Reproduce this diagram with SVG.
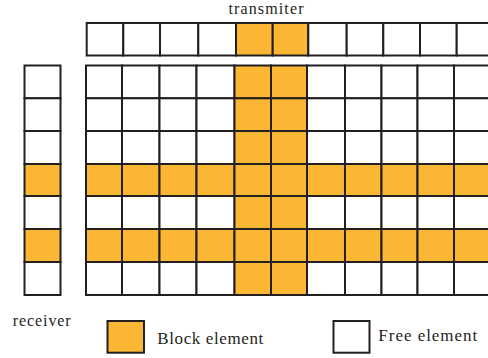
<svg xmlns="http://www.w3.org/2000/svg" width="488" height="358" viewBox="0 0 488 358">
<style>
rect{stroke:#231f20;stroke-width:2}
.f{fill:#ffffff}
.b{fill:#fbb634}
text{font-family:"Liberation Serif","Times New Roman",serif;fill:#231f20}
</style>
<g id="transmitter">
<text x="228.5" y="13.5" font-size="16" textLength="75" lengthAdjust="spacing">transmiter</text>
<rect class="f" x="86.7" y="23" width="36.6" height="32.5"/>
<rect class="f" x="123.3" y="23" width="36.7" height="32.5"/>
<rect class="f" x="160" y="23" width="38.3" height="32.5"/>
<rect class="f" x="198.3" y="23" width="37.7" height="32.5"/>
<rect class="b" x="236" y="23" width="36.7" height="32.5"/>
<rect class="b" x="272.7" y="23" width="35.6" height="32.5"/>
<rect class="f" x="308.3" y="23" width="38.4" height="32.5"/>
<rect class="f" x="346.7" y="23" width="36.6" height="32.5"/>
<rect class="f" x="383.3" y="23" width="36.7" height="32.5"/>
<rect class="f" x="420" y="23" width="36.7" height="32.5"/>
<rect class="f" x="456.7" y="23" width="36.6" height="32.5"/>
</g>
<g id="receiver">
<rect class="f" x="24.5" y="65.5" width="36" height="32.8"/>
<rect class="f" x="24.5" y="98.3" width="36" height="32.7"/>
<rect class="f" x="24.5" y="131" width="36" height="33"/>
<rect class="b" x="24.5" y="164" width="36" height="32"/>
<rect class="f" x="24.5" y="196" width="36" height="33"/>
<rect class="b" x="24.5" y="229" width="36" height="33"/>
<rect class="f" x="24.5" y="262" width="36" height="33"/>
<text x="12.7" y="325.7" font-size="16" textLength="58" lengthAdjust="spacing">receiver</text>
</g>
<g id="grid">
<!-- row 0 -->
<rect class="f" x="86" y="65.5" width="36" height="32.8"/>
<rect class="f" x="122" y="65.5" width="37.5" height="32.8"/>
<rect class="f" x="159.5" y="65.5" width="37" height="32.8"/>
<rect class="f" x="196.5" y="65.5" width="38" height="32.8"/>
<rect class="b" x="234.5" y="65.5" width="36.5" height="32.8"/>
<rect class="b" x="271" y="65.5" width="36" height="32.8"/>
<rect class="f" x="307" y="65.5" width="38" height="32.8"/>
<rect class="f" x="345" y="65.5" width="36.5" height="32.8"/>
<rect class="f" x="381.5" y="65.5" width="36" height="32.8"/>
<rect class="f" x="417.5" y="65.5" width="36.5" height="32.8"/>
<rect class="f" x="454" y="65.5" width="37" height="32.8"/>
<!-- row 1 -->
<rect class="f" x="86" y="98.3" width="36" height="32.7"/>
<rect class="f" x="122" y="98.3" width="37.5" height="32.7"/>
<rect class="f" x="159.5" y="98.3" width="37" height="32.7"/>
<rect class="f" x="196.5" y="98.3" width="38" height="32.7"/>
<rect class="b" x="234.5" y="98.3" width="36.5" height="32.7"/>
<rect class="b" x="271" y="98.3" width="36" height="32.7"/>
<rect class="f" x="307" y="98.3" width="38" height="32.7"/>
<rect class="f" x="345" y="98.3" width="36.5" height="32.7"/>
<rect class="f" x="381.5" y="98.3" width="36" height="32.7"/>
<rect class="f" x="417.5" y="98.3" width="36.5" height="32.7"/>
<rect class="f" x="454" y="98.3" width="37" height="32.7"/>
<!-- row 2 -->
<rect class="f" x="86" y="131" width="36" height="33"/>
<rect class="f" x="122" y="131" width="37.5" height="33"/>
<rect class="f" x="159.5" y="131" width="37" height="33"/>
<rect class="f" x="196.5" y="131" width="38" height="33"/>
<rect class="b" x="234.5" y="131" width="36.5" height="33"/>
<rect class="b" x="271" y="131" width="36" height="33"/>
<rect class="f" x="307" y="131" width="38" height="33"/>
<rect class="f" x="345" y="131" width="36.5" height="33"/>
<rect class="f" x="381.5" y="131" width="36" height="33"/>
<rect class="f" x="417.5" y="131" width="36.5" height="33"/>
<rect class="f" x="454" y="131" width="37" height="33"/>
<!-- row 3 -->
<rect class="b" x="86" y="164" width="36" height="32"/>
<rect class="b" x="122" y="164" width="37.5" height="32"/>
<rect class="b" x="159.5" y="164" width="37" height="32"/>
<rect class="b" x="196.5" y="164" width="38" height="32"/>
<rect class="b" x="234.5" y="164" width="36.5" height="32"/>
<rect class="b" x="271" y="164" width="36" height="32"/>
<rect class="b" x="307" y="164" width="38" height="32"/>
<rect class="b" x="345" y="164" width="36.5" height="32"/>
<rect class="b" x="381.5" y="164" width="36" height="32"/>
<rect class="b" x="417.5" y="164" width="36.5" height="32"/>
<rect class="b" x="454" y="164" width="37" height="32"/>
<!-- row 4 -->
<rect class="f" x="86" y="196" width="36" height="33"/>
<rect class="f" x="122" y="196" width="37.5" height="33"/>
<rect class="f" x="159.5" y="196" width="37" height="33"/>
<rect class="f" x="196.5" y="196" width="38" height="33"/>
<rect class="b" x="234.5" y="196" width="36.5" height="33"/>
<rect class="b" x="271" y="196" width="36" height="33"/>
<rect class="f" x="307" y="196" width="38" height="33"/>
<rect class="f" x="345" y="196" width="36.5" height="33"/>
<rect class="f" x="381.5" y="196" width="36" height="33"/>
<rect class="f" x="417.5" y="196" width="36.5" height="33"/>
<rect class="f" x="454" y="196" width="37" height="33"/>
<!-- row 5 -->
<rect class="b" x="86" y="229" width="36" height="33"/>
<rect class="b" x="122" y="229" width="37.5" height="33"/>
<rect class="b" x="159.5" y="229" width="37" height="33"/>
<rect class="b" x="196.5" y="229" width="38" height="33"/>
<rect class="b" x="234.5" y="229" width="36.5" height="33"/>
<rect class="b" x="271" y="229" width="36" height="33"/>
<rect class="b" x="307" y="229" width="38" height="33"/>
<rect class="b" x="345" y="229" width="36.5" height="33"/>
<rect class="b" x="381.5" y="229" width="36" height="33"/>
<rect class="b" x="417.5" y="229" width="36.5" height="33"/>
<rect class="b" x="454" y="229" width="37" height="33"/>
<!-- row 6 -->
<rect class="f" x="86" y="262" width="36" height="33"/>
<rect class="f" x="122" y="262" width="37.5" height="33"/>
<rect class="f" x="159.5" y="262" width="37" height="33"/>
<rect class="f" x="196.5" y="262" width="38" height="33"/>
<rect class="b" x="234.5" y="262" width="36.5" height="33"/>
<rect class="b" x="271" y="262" width="36" height="33"/>
<rect class="f" x="307" y="262" width="38" height="33"/>
<rect class="f" x="345" y="262" width="36.5" height="33"/>
<rect class="f" x="381.5" y="262" width="36" height="33"/>
<rect class="f" x="417.5" y="262" width="36.5" height="33"/>
<rect class="f" x="454" y="262" width="37" height="33"/>
</g>
<g id="legend-block">
<rect class="b" x="107.5" y="321" width="36.5" height="31.7"/>
<text x="157.3" y="344" font-size="17" textLength="106" lengthAdjust="spacing">Block element</text>
</g>
<g id="legend-free">
<rect class="f" x="333.5" y="321" width="36" height="31.7"/>
<text x="378.3" y="341.3" font-size="17" textLength="99" lengthAdjust="spacing">Free element</text>
</g>
</svg>
